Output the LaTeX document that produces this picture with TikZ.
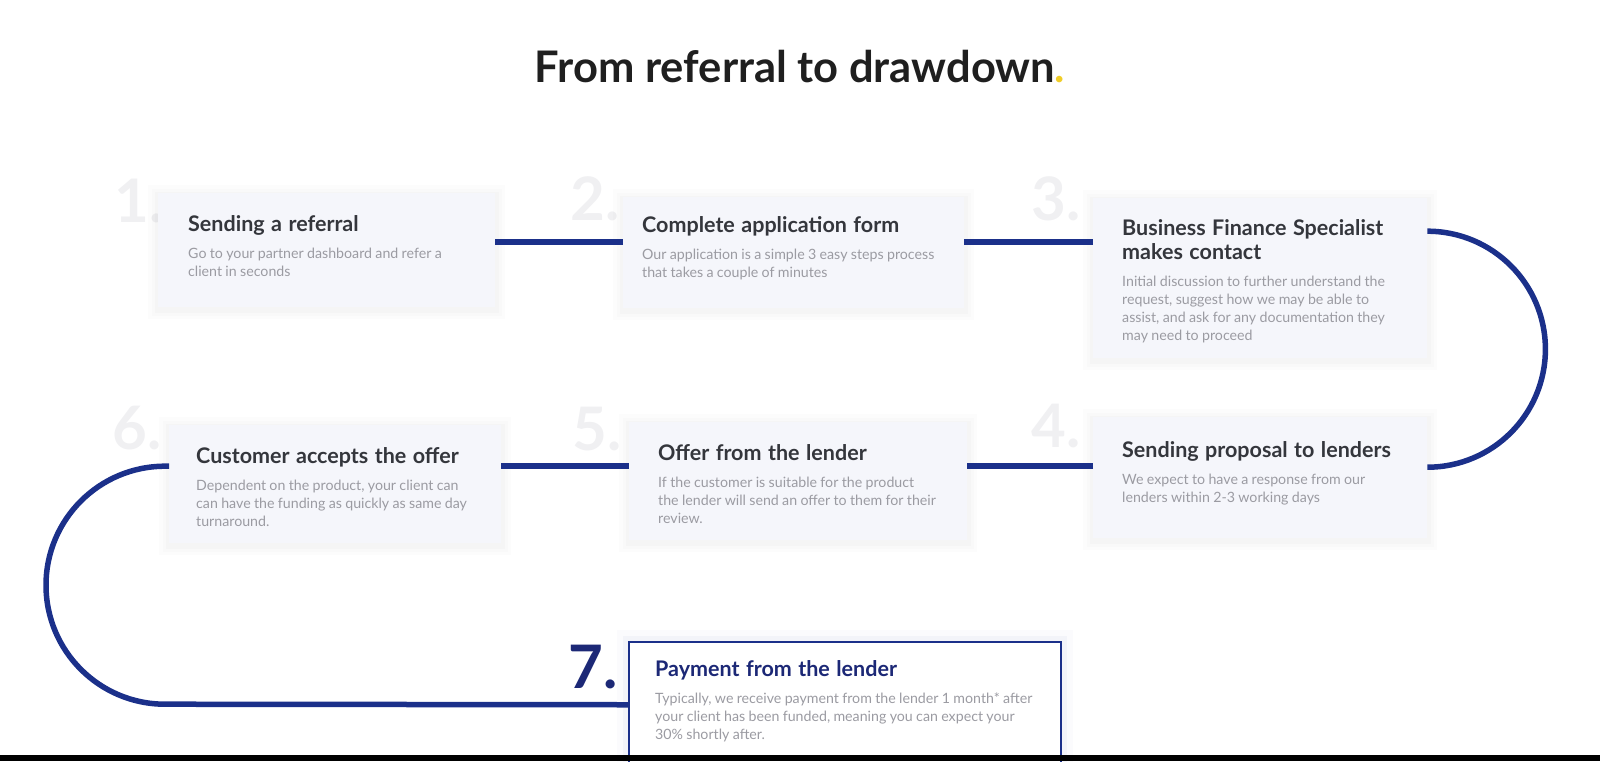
\documentclass[tikz,border=0pt]{standalone}
\usepackage{fontspec}
\setmainfont{Lato}
\usetikzlibrary{positioning, calc}

\definecolor{linkBlue}{RGB}{27, 48, 138}
\definecolor{numBlue}{RGB}{28, 40, 118}
\definecolor{headGray}{RGB}{52, 54, 60}
\definecolor{bodyGray}{RGB}{155, 155, 162}
\definecolor{boxFill}{RGB}{245, 246, 251}
\definecolor{ghostGray}{RGB}{240, 240, 242}
\definecolor{dotYellow}{RGB}{240, 205, 40}

% heading + short description inside a card
\newcommand{\cardtext}[2]{%
  {\fontsize{21.5}{24}\selectfont\bfseries\spaceskip=0.3em\relax #1\par}%
  \vspace{8.5pt}%
  {\fontsize{14.2}{18}\selectfont\color{bodyGray} #2\par}}

\begin{document}
\begin{tikzpicture}[
    x=1pt, y=-1pt,
    stepbox/.style={rectangle, fill=boxFill, anchor=north west, inner sep=0pt,
                    preaction={draw=black, opacity=0.01, line width=20pt, transform canvas={yshift=-2pt}},
                    preaction={draw=black, opacity=0.013, line width=13pt, transform canvas={yshift=-2pt}},
                    preaction={draw=black, opacity=0.017, line width=7pt, transform canvas={yshift=-2pt}}},
    lastbox/.style={rectangle, fill=white, draw=linkBlue, line width=1.5pt,
                    anchor=north west, inner sep=0pt,
                    preaction={draw=linkBlue, opacity=0.02, line width=24pt},
                    preaction={draw=linkBlue, opacity=0.03, line width=12pt}},
    steptext/.style={inner sep=0pt, text width=420pt, align=left, text=headGray},
    ghostnum/.style={anchor=base west, inner sep=0pt, text=ghostGray,
                     font=\fontsize{60}{60}\selectfont\bfseries},
    link/.style={draw=linkBlue, line width=5.5pt},
  ]
    \useasboundingbox (0,0) rectangle (1600,761);

    \node[anchor=base, inner sep=0pt, text=black!88,
          font=\fontsize{43.5}{44}\selectfont\bfseries] (TITLE) at (800,82)
         {From referral to drawdown\textcolor{dotYellow}{.}};

    % faint step numbers behind the cards
    \node[ghostnum] (N1) at (114,222) {1.};
    \node[ghostnum] (N2) at (570,220) {2.};
    \node[ghostnum] (N3) at (1031,220) {3.};
    \node[ghostnum] (N4) at (1031,447) {4.};
    \node[ghostnum] (N5) at (572,450) {5.};
    \node[ghostnum] (N6) at (112,449) {6.};

    % cards, top row left to right
    \node[stepbox, minimum width=337pt, minimum height=114pt] (REFERRAL) at (158,193) {};
    \node[stepbox, minimum width=341pt, minimum height=111pt] (APPLY) at (623,197) {};
    \node[stepbox, minimum width=334pt, minimum height=160pt] (CONTACT) at (1093,198) {};
    % bottom row right to left
    \node[stepbox, minimum width=334pt, minimum height=121pt] (PROPOSAL) at (1093,417) {};
    \node[stepbox, minimum width=338pt, minimum height=118pt] (OFFER) at (629,422) {};
    \node[stepbox, minimum width=332pt, minimum height=118pt] (ACCEPT) at (169,425) {};
    % final step
    \node[lastbox, minimum width=432pt, minimum height=126pt] (PAYMENT) at (628,641) {};
    \node[anchor=base west, inner sep=0pt, text=numBlue,
          font=\fontsize{60}{60}\selectfont\bfseries] (N7) at (568,688) {7.};

    % card texts
    \node[steptext, below right=22.5pt and 30pt of REFERRAL.north west] (REFERRAL-t)
         {\cardtext{Sending a referral}
          {Go to your partner dashboard and refer a\\client in seconds}};
    \node[steptext, below right=19.5pt and 19pt of APPLY.north west] (APPLY-t)
         {\cardtext{Complete application form}
          {Our application is a simple 3 easy steps process\\that takes a couple of minutes}};
    \node[steptext, below right=21.5pt and 29pt of CONTACT.north west] (CONTACT-t)
         {\cardtext{Business Finance Specialist\\makes contact}
          {Initial discussion to further understand the\\request, suggest how we may be able to\\assist, and ask for any documentation they\\may need to proceed}};
    \node[steptext, below right=24.5pt and 29pt of PROPOSAL.north west] (PROPOSAL-t)
         {\cardtext{Sending proposal to lenders}
          {We expect to have a response from our\\lenders within 2-3 working days}};
    \node[steptext, below right=22.5pt and 29pt of OFFER.north west] (OFFER-t)
         {\cardtext{Offer from the lender}
          {If the customer is suitable for the product\\the lender will send an offer to them for their\\review.}};
    \node[steptext, below right=22.5pt and 27pt of ACCEPT.north west] (ACCEPT-t)
         {\cardtext{Customer accepts the offer}
          {Dependent on the product, your client can\\can have the funding as quickly as same day\\turnaround.}};
    \node[steptext, text=numBlue, below right=19.5pt and 27pt of PAYMENT.north west] (PAYMENT-t)
         {\cardtext{Payment from the lender}
          {Typically, we receive payment from the lender 1 month* after\\your client has been funded, meaning you can expect your\\30\% shortly after.}};

    % connectors
    \draw[link] ([yshift=8pt]REFERRAL.east) -- ([yshift=8pt]REFERRAL.east -| APPLY.west);
    \draw[link] ([yshift=10.5pt]APPLY.east) -- ([yshift=10.5pt]APPLY.east -| CONTACT.west);
    \draw[link] ([yshift=47pt]CONTACT.east)
         arc[start angle=90, end angle=-90, radius=118pt]
         -- ([yshift=10.5pt]PROPOSAL.east);
    \draw[link] ([yshift=11.5pt]PROPOSAL.west) -- ([yshift=11.5pt]PROPOSAL.west -| OFFER.east);
    \draw[link] ([yshift=15pt]OFFER.west) -- ([yshift=15pt]OFFER.west -| ACCEPT.east);
    \draw[link] ([yshift=18pt]ACCEPT.west) -- ++(-4pt,0)
         arc[start angle=90, end angle=270, radius=119pt]
         -- (PAYMENT.west);

    % bottom edge of the screen capture
    \fill[black] (0,755) rectangle (1600,761);
\end{tikzpicture}
\end{document}
